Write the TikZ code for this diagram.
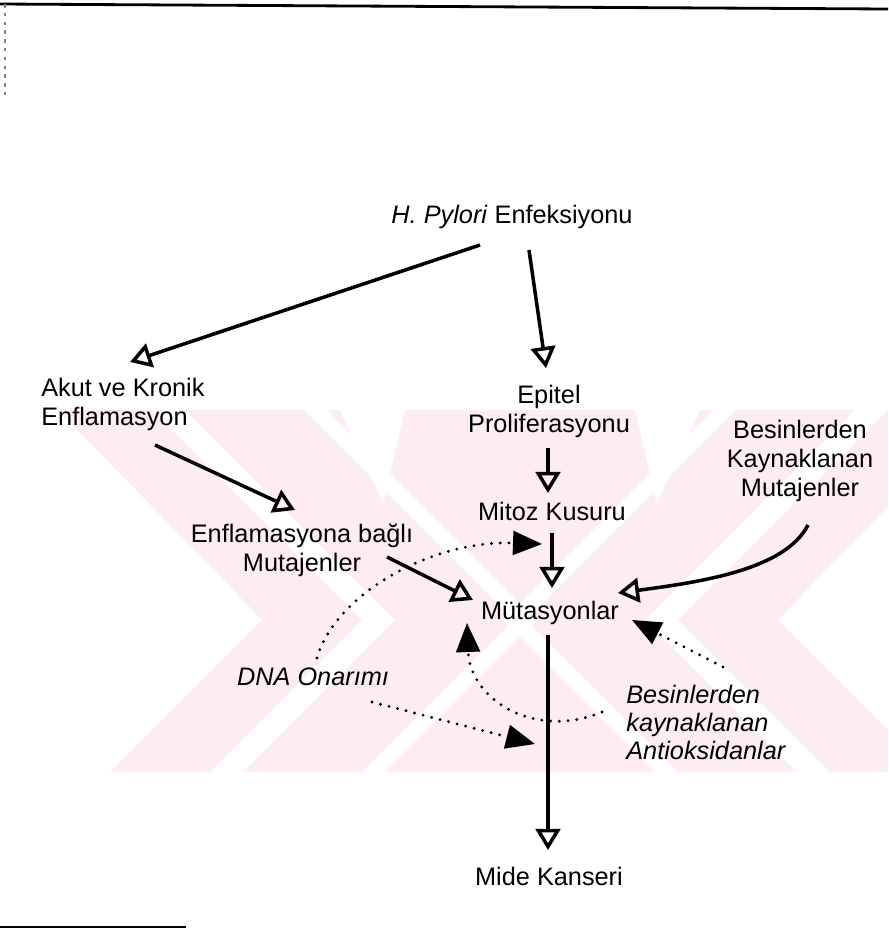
\documentclass[tikz,border=0pt]{standalone}
\usepackage{fontspec}
\setmainfont{Liberation Sans}
\usetikzlibrary{calc,arrows.meta}
\definecolor{wmpink}{RGB}{253,236,240}

\begin{document}
\begin{tikzpicture}[x=0.2mm,y=-0.2mm,
  lbl/.style={inner sep=0pt,font=\fontsize{14.4}{16.5}\selectfont},
  flow/.style={line width=2pt,-{Triangle[open,length=12pt,width=14pt]}},
  effect/.style={line width=1.8pt,line cap=round,dash pattern=on 0pt off 5pt,-{Triangle[length=16.5pt,width=13.5pt]}}]

\useasboundingbox (0,0) rectangle (888,933);

% page edges
\draw[line width=1.6pt] (0,4) -- (888,9);
\draw[gray,line width=0.6pt,dash pattern=on 2pt off 3pt] (5,4) -- (5,95);
\draw[line width=1.2pt] (0,927) -- (186,927);

% watermark
\begin{scope}
\clip (0,410) rectangle (888,772);
\fill[wmpink] (0,410) rectangle (888,772);
\fill[white] (0,410) -- (58,410) -- (262,620) -- (110,772) -- (0,772) -- cycle;
\fill[white] (982,410) -- (1040,410) -- (1040,772) -- (930,772) -- (778,620) -- cycle;
\fill[white] (152,410) -- (185,410) -- (395,620) -- (243,772) -- (210,772) -- (362,620) -- cycle;
\fill[white] (888,410) -- (855,410) -- (645,620) -- (797,772) -- (830,772) -- (678,620) -- cycle;
\fill[white] (304,410) -- (327,410) -- (537,620) -- (385,772) -- (362,772) -- (514,620) -- cycle;
\fill[white] (736,410) -- (713,410) -- (503,620) -- (655,772) -- (678,772) -- (526,620) -- cycle;
\fill[white] (340,410) -- (405,410) -- (383,503) -- cycle;
\fill[white] (635,410) -- (700,410) -- (657,503) -- cycle;
\end{scope}

\node[lbl,anchor=base] (pylori) at (512,223) {\textit{H. Pylori} Enfeksiyonu};
\node[lbl,anchor=north west,align=left] (akut) at (41,378) {Akut ve Kronik\\Enflamasyon};
\node[lbl,anchor=north,align=center] (epitel) at (549,385) {Epitel\\Proliferasyonu};
\node[lbl,anchor=base] (mitoz) at (552,520) {Mitoz Kusuru};
\node[lbl,anchor=north,align=center] (enfmut) at (302,523) {Enflamasyona bağlı\\Mutajenler};
\node[lbl,anchor=base] (mutas) at (550,619) {Mütasyonlar};
\node[lbl,anchor=north,align=center] (besmut) at (800,420) {Besinlerden\\Kaynaklanan\\Mutajenler};
\node[lbl,anchor=base] (dna) at (313,685) {\itshape DNA Onarımı};
\node[lbl,anchor=north west,align=left,font=\fontsize{14.4}{16}\selectfont\itshape] (antiox) at (626,685) {Besinlerden\\kaynaklanan\\Antioksidanlar};
\node[lbl,anchor=base] (kanser) at (549,885) {Mide Kanseri};

\draw[flow] ($(pylori.base)+(-32,22)$) -- ($(akut.north west)+(89,-16)$);
\draw[flow] ($(pylori.base)+(17,27)$) -- ($(epitel.north)+(-3,-17)$);
\draw[flow] ($(epitel.north)+(-1,63)$) -- ($(mitoz.base)+(-4,-27)$);
\draw[flow] ($(mitoz.base)+(0,13)$) -- ($(mutas.base)+(2,-31)$);
\draw[flow] ($(akut.north west)+(114,67)$) -- ($(enfmut.north)+(-7,-13)$);
\draw[flow] ($(enfmut.north)+(85,34)$) -- ($(mutas.base)+(-77,-19)$);
\draw[flow] ($(besmut.north)+(8,105)$) .. controls +(-23,45) and +(82,-11) .. ($(mutas.base)+(68,-26)$);
\draw[flow] ($(mutas.base)+(-2,16)$) -- ($(kanser.base)+(-1,-35)$);

\draw[effect] ($(dna.base)+(4,-27)$) .. controls +(18,-63) and +(-112,-4) .. ($(mitoz.base)+(-10,24)$);
\draw[effect] ($(dna.base)+(59,17)$) -- ($(mutas.base)+(-15,125)$);
\draw[effect] ($(antiox.north west)+(-24,27)$) .. controls +(-67,28) and +(3,77) .. ($(mutas.base)+(-83,4)$);
\draw[effect] ($(antiox.north west)+(97,-18)$) -- ($(mutas.base)+(82,1)$);

\end{tikzpicture}
\end{document}
